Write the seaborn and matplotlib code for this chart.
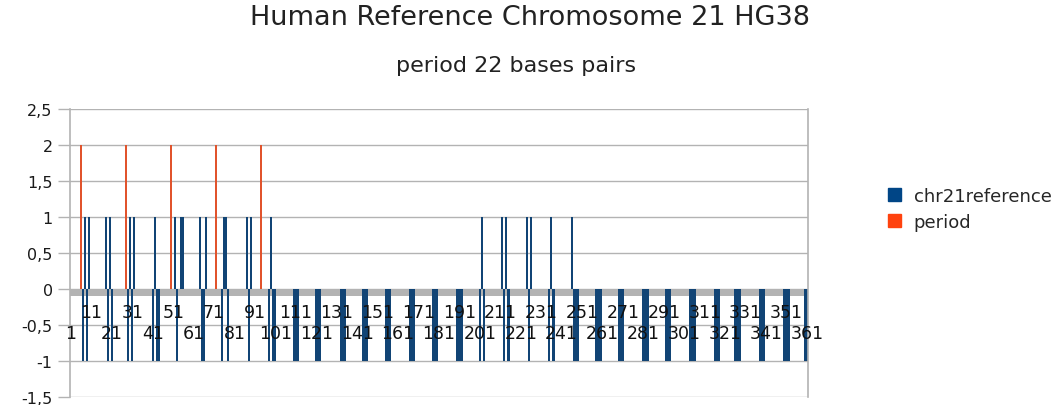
import matplotlib
matplotlib.use("Agg")
import pandas as pd
import matplotlib.pyplot as plt
import seaborn as sns
from matplotlib.patches import Patch

# categories 1..361 on the x axis
categories = list(range(1, 362))

# series "period": value 2 every 22 bases
period_cats = [6, 28, 50, 72, 94]
period_value = 2

# series "chr21reference": +1 / -1 at these categories, 0 elsewhere
ref_up_cats = [8, 10, 18, 20, 30, 32, 42, 52, 55, 56, 64, 67, 76, 77, 87, 89, 99,
               202, 212, 214, 224, 226, 236, 246]
ref_down_cats = [7, 9, 19, 21, 29, 31, 41, 43, 44, 53, 65, 66, 75, 78, 88, 98, 100, 101,
                 110, 111, 112, 121, 122, 123, 133, 134, 135, 144, 145, 146,
                 155, 156, 157, 167, 168, 169, 178, 179, 180, 190, 191, 192,
                 201, 203, 213, 215, 225, 235, 237,
                 247, 248, 249, 258, 259, 260, 269, 270, 271, 281, 282, 283,
                 292, 293, 294, 304, 305, 306, 316, 317, 318, 326, 327, 328,
                 338, 339, 340, 350, 351, 352, 360, 361]

yticks = [-1.5, -1, -0.5, 0, 0.5, 1, 1.5, 2, 2.5]
ytick_labels = ["-1,5", "-1", "-0,5", "0", "0,5", "1", "1,5", "2", "2,5"]

BLUE = "#004586"
RED = "#ff420e"
GRID = "#b3b3b3"

ref_vals = [1 if c in ref_up_cats else (-1 if c in ref_down_cats else 0) for c in categories]
period_vals = [period_value if c in period_cats else 0 for c in categories]

df = pd.DataFrame({
    "cat": categories * 2,
    "value": ref_vals + period_vals,
    "series": ["chr21reference"] * len(categories) + ["period"] * len(categories),
})

sns.set_style("white")
plt.rcParams["font.family"] = ["DejaVu Sans"]

fig = plt.figure(figsize=(10.64, 4.06), dpi=100)
ax = fig.add_axes([70 / 1064, 8 / 406, 738 / 1064, 288 / 406])

for y in yticks:
    ax.axhline(y, color=GRID, lw=1, zorder=0.3)
ax.axhspan(-0.1, 0, color=GRID, lw=0, zorder=0.5)

sns.barplot(data=df, x="cat", y="value", hue="series",
            palette={"chr21reference": BLUE, "period": RED},
            dodge=False, width=1.0, errorbar=None, linewidth=0,
            legend=False, ax=ax)
for p in ax.patches:
    p.set_zorder(1)
ax.xaxis.set_zorder(3)  # tick labels drawn over the bars
ax.yaxis.set_zorder(3)

ax.set_xlim(-0.5, len(categories) - 0.5)
ax.set_ylim(-1.5, 2.5)
ax.set_xlabel("")
ax.set_ylabel("")

ax.spines["bottom"].set_position(("data", 0))
ax.spines["bottom"].set_visible(False)
ax.spines["top"].set_visible(False)
for s in ("left", "right"):
    ax.spines[s].set_color(GRID)
    ax.spines[s].set_linewidth(1.2)

ax.set_yticks(yticks)
ax.set_yticklabels(ytick_labels, fontsize=11.5, color="#1a1a1a")
ax.tick_params(axis="y", length=8.5, width=1, color=GRID, pad=4, left=True)

tick_pos = list(range(0, len(categories), 10))
ax.set_xticks(tick_pos)
ax.set_xticklabels([str(categories[p]) for p in tick_pos], fontsize=12.5, color="#111111")
ax.tick_params(axis="x", length=0, bottom=True)
for i, t in enumerate(ax.xaxis.get_major_ticks()):
    t.set_pad(25 if i % 2 == 0 else 10)

fig.text(0.498, 0.955, "Human Reference Chromosome 21 HG38", ha="center", va="center",
         fontsize=19.5, color="#222222")
fig.text(0.485, 0.837, "period 22 bases pairs", ha="center", va="center",
         fontsize=16, color="#222222")

handles = [Patch(color=BLUE, label="chr21reference"), Patch(color=RED, label="period")]
fig.legend(handles=handles, loc="center left", bbox_to_anchor=(0.8196, 0.483),
           frameon=False, handlelength=0.7, handleheight=0.7, handletextpad=0.7,
           labelspacing=0.45, fontsize=13)

fig.savefig("out.png", dpi=100)
